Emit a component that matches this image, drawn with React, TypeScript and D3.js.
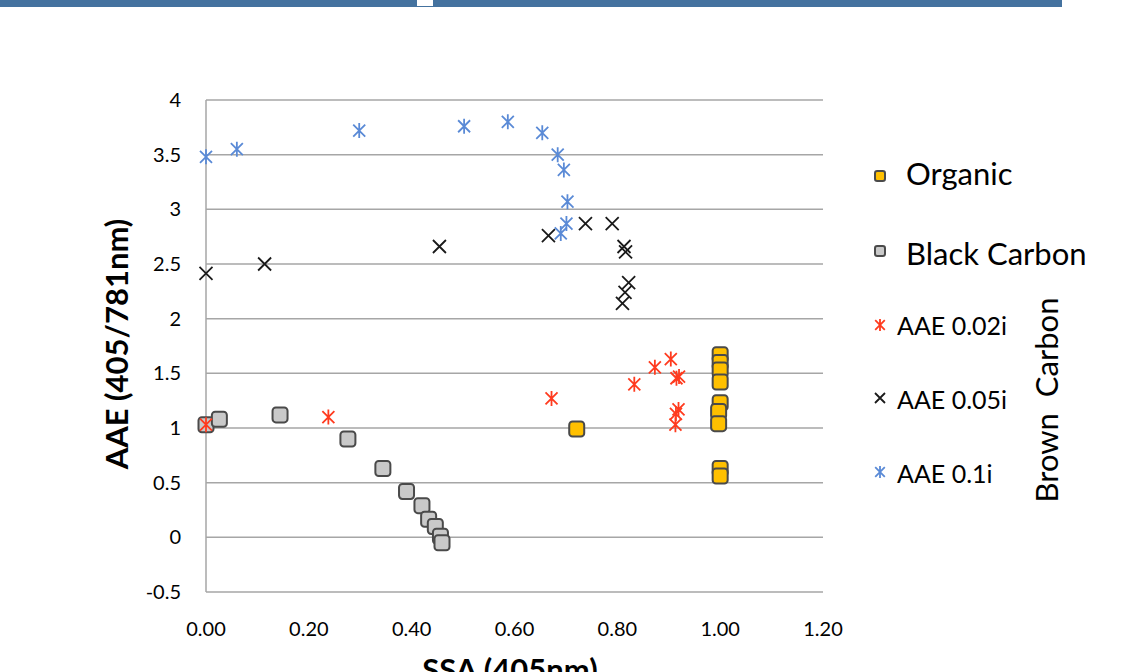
import * as d3 from 'd3';

// SSA (405nm) vs AAE (405/781nm)
const organic: [number, number][] = [
  [0.721, 0.99], [1.0, 1.67], [1.0, 1.6], [1.0, 1.53], [1.0, 1.42],
  [1.0, 1.23], [0.997, 1.15], [0.997, 1.04], [1.0, 0.63], [1.0, 0.56],
];
const blackCarbon: [number, number][] = [
  [0.0, 1.03], [0.026, 1.08], [0.144, 1.12], [0.276, 0.9], [0.344, 0.63],
  [0.39, 0.42], [0.42, 0.29], [0.433, 0.165], [0.446, 0.1], [0.456, 0.01], [0.459, -0.05],
];
const aae002: [number, number][] = [
  [0.0, 1.03], [0.238, 1.1], [0.672, 1.27], [0.833, 1.4], [0.873, 1.555],
  [0.904, 1.63], [0.915, 1.455], [0.92, 1.47], [0.919, 1.17], [0.914, 1.13], [0.913, 1.03],
];
const aae005: [number, number][] = [
  [0.0, 2.415], [0.114, 2.5], [0.454, 2.66], [0.666, 2.76], [0.738, 2.87],
  [0.79, 2.87], [0.813, 2.66], [0.816, 2.61], [0.822, 2.33], [0.815, 2.24], [0.81, 2.14],
];
const aae01: [number, number][] = [
  [0.0, 3.48], [0.06, 3.55], [0.298, 3.72], [0.502, 3.76], [0.587, 3.8],
  [0.654, 3.7], [0.684, 3.5], [0.696, 3.36], [0.703, 3.07], [0.701, 2.87], [0.69, 2.78],
];

const xTicks = [0, 0.2, 0.4, 0.6, 0.8, 1.0, 1.2];
const yTicks = [-0.5, 0, 0.5, 1, 1.5, 2, 2.5, 3, 3.5, 4];

const FONT = 'Lato, "Open Sans", sans-serif';
const GRID = '#a6a6a6';

const x = d3.scaleLinear().domain([0, 1.2]).range([206, 823]);
const y = d3.scaleLinear().domain([-0.5, 4]).range([592, 100]);

const Square = ({ cx, cy, s, fill }: { cx: number; cy: number; s: number; fill: string }) => (
  <rect x={cx - s / 2} y={cy - s / 2} width={s} height={s} rx={s * 0.22}
    fill={fill} stroke="#4a4a4a" strokeWidth={2} />
);

const Cross = ({ cx, cy, r, color }: { cx: number; cy: number; r: number; color: string }) => (
  <path d={`M${cx - r},${cy - r}L${cx + r},${cy + r}M${cx - r},${cy + r}L${cx + r},${cy - r}`}
    stroke={color} strokeWidth={1.8} fill="none" />
);

const Star = ({ cx, cy, r, color }: { cx: number; cy: number; r: number; color: string }) => (
  <path d={`M${cx},${cy - r}L${cx},${cy + r}M${cx - r * 0.8},${cy - r * 0.8}L${cx + r * 0.8},${cy + r * 0.8}M${cx - r * 0.8},${cy + r * 0.8}L${cx + r * 0.8},${cy - r * 0.8}`}
    stroke={color} strokeWidth={1.8} fill="none" />
);

export default function App() {
  return (
    <svg width={1126} height={672} style={{ position: 'absolute', left: 0, top: 0 }}>
      <rect x={0} y={0} width={1126} height={672} fill="#fff" />
      <rect x={0} y={0} width={1062} height={7} fill="#44729f" />
      <rect x={417} y={0} width={16} height={6} fill="#fff" />

      {yTicks.map((t) => (
        <g key={t}>
          <line x1={206} x2={823} y1={y(t)} y2={y(t)} stroke={GRID} strokeWidth={1.5} />
          <text x={181} y={y(t)} dy="0.35em" textAnchor="end" fontFamily={FONT} fontSize={20} fill="#000">
            {t}
          </text>
        </g>
      ))}
      <line x1={206} x2={206} y1={100} y2={592} stroke={GRID} strokeWidth={1.5} />
      {xTicks.map((t) => (
        <text key={t} x={x(t)} y={629} dy="0.35em" textAnchor="middle" fontFamily={FONT} fontSize={20} fill="#000">
          {t.toFixed(2)}
        </text>
      ))}

      <text transform="translate(128,344) rotate(-90)" textAnchor="middle" fontFamily={FONT}
        fontWeight="bold" fontSize={31}>AAE (405/781nm)</text>
      <text x={510} y={681} textAnchor="middle" fontFamily={FONT} fontWeight="bold" fontSize={31}>
        SSA (405nm)
      </text>

      {organic.map(([a, b], i) => <Square key={'o' + i} cx={x(a)} cy={y(b)} s={15} fill="#ffc000" />)}
      {blackCarbon.map(([a, b], i) => <Square key={'b' + i} cx={x(a)} cy={y(b)} s={15} fill="#c9c9c9" />)}
      {aae002.map(([a, b], i) => <Star key={'r' + i} cx={x(a)} cy={y(b)} r={7.5} color="#ff3b1f" />)}
      {aae005.map(([a, b], i) => <Cross key={'k' + i} cx={x(a)} cy={y(b)} r={6.5} color="#1a1a1a" />)}
      {aae01.map(([a, b], i) => <Star key={'u' + i} cx={x(a)} cy={y(b)} r={7.5} color="#5a8ad6" />)}

      <Square cx={880} cy={176} s={10} fill="#ffc000" />
      <text x={906} y={174} dy="0.35em" fontFamily={FONT} fontSize={31}>Organic</text>
      <Square cx={880} cy={251} s={10} fill="#c9c9c9" />
      <text x={906} y={254} dy="0.35em" fontFamily={FONT} fontSize={31}>Black Carbon</text>
      <Star cx={880} cy={325} r={6} color="#ff3b1f" />
      <text x={897} y={326} dy="0.35em" fontFamily={FONT} fontSize={25}>AAE 0.02i</text>
      <Cross cx={880} cy={398} r={5} color="#1a1a1a" />
      <text x={897} y={400} dy="0.35em" fontFamily={FONT} fontSize={25}>AAE 0.05i</text>
      <Star cx={880} cy={472} r={6} color="#5a8ad6" />
      <text x={897} y={474} dy="0.35em" fontFamily={FONT} fontSize={25}>AAE 0.1i</text>
      <text transform="translate(1047,400) rotate(-90)" dy="0.35em" textAnchor="middle" fontFamily={FONT}
        fontSize={31} style={{ whiteSpace: 'pre' }}>{'Brown  Carbon'}</text>
    </svg>
  );
}
